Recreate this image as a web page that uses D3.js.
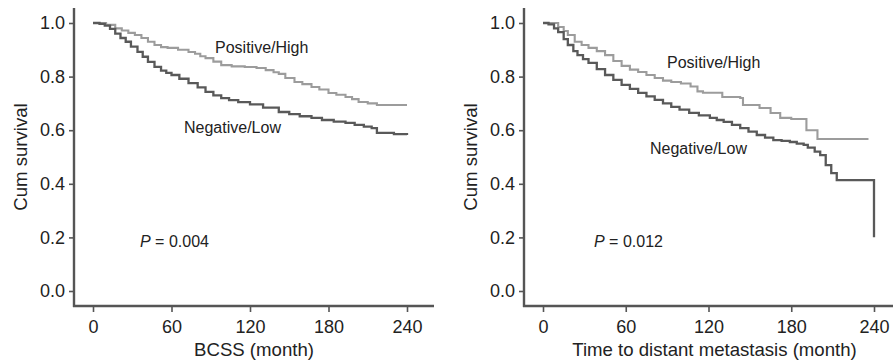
<!DOCTYPE html>
<html>
<head>
<meta charset="utf-8">
<script src="https://cdnjs.cloudflare.com/ajax/libs/d3/7.8.5/d3.min.js"></script>
<style>
  body { margin: 0; background: #fff; }
  text { font-family: "Liberation Sans", Arial, sans-serif; fill: #222; }
</style>
</head>
<body>
<svg id="chart" width="893" height="364"></svg>
<script>
// survival values, [month, cum survival]
var bcssHigh = [[0,1],[6,1],[10,0.993],[17,0.98],[22,0.972],[27,0.963],[32,0.955],[37,0.944],[42,0.93],[47,0.918],
  [52,0.91],[57,0.907],[65,0.9],[73,0.892],[78,0.885],[82,0.876],[86,0.869],[92,0.856],[98,0.843],[106,0.838],
  [116,0.836],[125,0.832],[132,0.824],[138,0.816],[142,0.81],[147,0.795],[154,0.78],[160,0.772],[167,0.761],
  [173,0.752],[180,0.739],[186,0.732],[193,0.724],[198,0.716],[203,0.705],[210,0.7],[217,0.694],[240,0.694]];

var bcssLow = [[0,1],[5,0.997],[9,0.99],[13,0.978],[17,0.96],[21,0.944],[25,0.93],[29,0.912],[34,0.892],[38,0.874],
  [42,0.855],[47,0.836],[52,0.822],[56,0.814],[60,0.806],[66,0.792],[73,0.776],[80,0.76],[86,0.743],[92,0.73],
  [98,0.72],[104,0.712],[111,0.705],[120,0.696],[130,0.684],[142,0.668],[150,0.66],[158,0.652],[167,0.646],
  [175,0.638],[184,0.632],[193,0.627],[200,0.62],[207,0.613],[213,0.608],[217,0.59],[230,0.585],[240,0.582]];

var metaHigh = [[0,1],[6,1],[11,0.985],[15,0.97],[18,0.955],[23,0.93],[28,0.918],[33,0.907],[39,0.895],[45,0.88],
  [51,0.858],[57,0.84],[63,0.826],[69,0.817],[75,0.806],[81,0.795],[87,0.785],[93,0.78],[100,0.774],[107,0.763],
  [112,0.745],[116,0.74],[130,0.724],[143,0.72],[145,0.694],[157,0.683],[165,0.664],[172,0.646],[180,0.642],
  [191,0.6],[199,0.567],[236,0.567]];

var metaLow = [[0,1],[4,0.995],[8,0.98],[11,0.966],[15,0.94],[18,0.918],[22,0.895],[25,0.88],[29,0.865],[33,0.851],
  [39,0.828],[45,0.806],[51,0.788],[57,0.769],[63,0.754],[69,0.739],[75,0.726],[81,0.713],[87,0.7],[93,0.687],
  [99,0.677],[106,0.665],[113,0.655],[121,0.646],[126,0.638],[131,0.631],[137,0.62],[143,0.608],[149,0.595],
  [155,0.582],[161,0.572],[167,0.563],[173,0.56],[179,0.556],[184,0.55],[189,0.545],[192,0.535],[197,0.52],
  [201,0.507],[205,0.47],[209,0.44],[213,0.414],[240,0.414],[240,0.201]];

var monthTicks = [0, 60, 120, 180, 240];
var survivalTicks = [0, 0.2, 0.4, 0.6, 0.8, 1.0];
var groupLabels = ["Positive/High", "Negative/Low"];
var pValues = ["0.004", "0.012"];
var xTitles = ["BCSS (month)", "Time to distant metastasis (month)"];
var yTitle = "Cum survival";

var svg = d3.select("#chart");

function drawPanel(opt){
  var x = d3.scaleLinear().domain([0, 240]).range([opt.x0, opt.x1]);
  var y = d3.scaleLinear().domain([0, 1]).range([291, 23]);
  var g = svg.append("g");

  // y axis (offset frame)
  var ya = g.append("g")
      .attr("transform", "translate(" + opt.axisX + ",0)")
      .call(d3.axisLeft(y).tickValues(survivalTicks).tickFormat(d3.format(".1f")).tickSize(5).tickPadding(4));
  ya.select(".domain").remove();
  ya.selectAll("line").attr("stroke", "#555").attr("stroke-width", 1.6);
  ya.selectAll("text").attr("font-size", "18px").attr("font-family", "Liberation Sans, Arial, sans-serif").attr("fill", "#222");

  var xa = g.append("g")
      .attr("transform", "translate(0," + opt.axisY + ")")
      .call(d3.axisBottom(x).tickValues(monthTicks).tickSize(6).tickPadding(8));
  xa.select(".domain").remove();
  xa.selectAll("line").attr("stroke", "#555").attr("stroke-width", 1.6);
  xa.selectAll("text").attr("font-size", "18px").attr("font-family", "Liberation Sans, Arial, sans-serif").attr("fill", "#222");

  g.append("line")
      .attr("x1", opt.axisX).attr("x2", opt.axisX)
      .attr("y1", 8).attr("y2", opt.axisY + 1)
      .attr("stroke", "#555").attr("stroke-width", 2.4);
  g.append("line")
      .attr("x1", opt.axisX - 1).attr("x2", opt.axisEnd)
      .attr("y1", opt.axisY).attr("y2", opt.axisY)
      .attr("stroke", "#555").attr("stroke-width", 2.4);

  var line = d3.line()
      .x(d => x(d[0]))
      .y(d => y(d[1]))
      .curve(d3.curveStepAfter);

  g.append("path")
      .datum(opt.high)
      .attr("d", line)
      .attr("fill", "none")
      .attr("stroke", "#9c9c9c")
      .attr("stroke-width", 2.1);

  g.append("path")
      .datum(opt.low)
      .attr("d", line)
      .attr("fill", "none")
      .attr("stroke", "#595959")
      .attr("stroke-width", 2.3);

  g.append("text")
      .attr("x", opt.highLabel[0]).attr("y", opt.highLabel[1])
      .attr("font-size", "16px")
      .text(groupLabels[0]);
  g.append("text")
      .attr("x", opt.lowLabel[0]).attr("y", opt.lowLabel[1])
      .attr("font-size", "16px")
      .text(groupLabels[1]);

  var p = g.append("text")
      .attr("x", opt.pPos[0]).attr("y", opt.pPos[1])
      .attr("font-size", "16px");
  p.append("tspan").attr("font-style", "italic").text("P");
  p.append("tspan").text(" = " + opt.p);

  g.append("text")
      .attr("x", (opt.axisX + opt.axisEnd) / 2 + opt.titleShift)
      .attr("y", 356)
      .attr("font-size", "18.6px")
      .style("text-anchor", "middle")
      .text(opt.xTitle);

  g.append("text")
      .attr("transform", "translate(" + (opt.axisX - 47) + ",157) rotate(-90)")
      .attr("font-size", "18.6px")
      .style("text-anchor", "middle")
      .text(yTitle);
}

drawPanel({
  x0: 93, x1: 407, axisX: 74, axisY: 306, axisEnd: 434, titleShift: 0,
  high: bcssHigh, low: bcssLow,
  highLabel: [215, 53], lowLabel: [184, 133], pPos: [140, 247],
  p: pValues[0], xTitle: xTitles[0]
});

drawPanel({
  x0: 543, x1: 874, axisX: 524, axisY: 306, axisEnd: 893, titleShift: 6,
  high: metaHigh, low: metaLow,
  highLabel: [667, 68], lowLabel: [650, 154], pPos: [594, 247],
  p: pValues[1], xTitle: xTitles[1]
});
</script>
</body>
</html>
